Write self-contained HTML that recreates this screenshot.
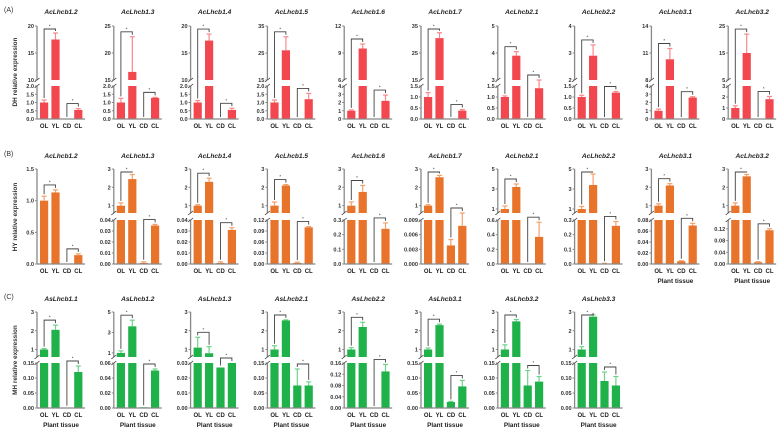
<!DOCTYPE html>
<html><head><meta charset="utf-8">
<style>
html,body{margin:0;padding:0;background:#fff;}
svg{display:block;font-family:"Liberation Sans",sans-serif;}
</style></head>
<body>
<svg id="fig" width="784" height="430" viewBox="0 0 784 430" xmlns="http://www.w3.org/2000/svg"></svg>
<script>
// ---------- Row A (DH) ----------
const rowA_genes = ["AcLhcb1.2","AcLhcb1.3","AcLhcb1.4","AcLhcb1.5","AcLhcb1.6","AcLhcb1.7","AcLhcb2.1","AcLhcb2.2","AcLhcb3.1","AcLhcb3.2"];
const rowA_values = [[1,17.5,0,0.55],[1,16.5,0,1.28],[1,17.3,0,0.55],[1,26,0,1.2],[1,9.5,0,2.2],[1,30.5,0,0.38],[1,3.9,0,1.4],[1,2.9,0,1.2],[1,10.3,0,2.6],[1,15,0,1.8]];
const rowA_errors = [[0.15,1.2,0,0.08],[0.25,6.5,0,0.03],[0.12,1.2,0,0.1],[0.15,5,0,0.35],[0.1,0.5,0,0.7],[0.2,2,0,0.05],[0.05,0.15,0,0.12],[0.08,0.4,0,0.05],[0.2,1.2,0,0.1],[0.2,7,0,0.25]];
const rowA_lowerTicks = [["0.0","0.5","1.0","1.5","2.0"],["0.0","0.5","1.0","1.5","2.0"],["0.0","0.5","1.0","1.5","2.0"],["0.0","0.5","1.0","1.5","2.0"],["0","1","2","3","4"],["0.0","0.5","1.0","1.5"],["0.0","0.5","1.0","1.5"],["0.0","0.5","1.0","1.5"],["0","1","2","3","4"],["0","1","2","3"]];
const rowA_lowerMax = [2,2,2,2,4,1.5,1.5,1.5,4,3];
const rowA_upperTicks = [["10","15","20"],["15","20","25"],["10","15","20"],["15","25","35"],["6","9","12"],["15","25","35"],["3","4","5"],["2","3","4"],["8","11","14"],["5","15","25"]];
const rowA_upperLow = [10,15,10,15,6,15,3,2,8,5];

// ---------- Row B (HY) ----------
const rowB_genes = ["AcLhcb1.2","AcLhcb1.3","AcLhcb1.4","AcLhcb1.5","AcLhcb1.6","AcLhcb1.7","AcLhcb2.1","AcLhcb2.2","AcLhcb3.1","AcLhcb3.2"];
const rowB_values = [[1,1.13,0,0.14],[1,2.45,0.001,0.035],[1,2.3,0.001,0.031],[1,2.1,0.003,0.1],[1,1.75,0,0.24],[1,2.55,0.0038,0.0078],[1,3.2,0,0.37],[1,3.4,0.003,0.26],[1,2.1,0.005,0.07],[1,2.6,0.006,0.115]];
const rowB_errors = [[0.07,0.04,0,0.02],[0.15,0.25,0.001,0.001],[0.05,0.2,0.001,0.002],[0.2,0.05,0.002,0.002],[0.2,0.35,0,0.04],[0.05,0.1,0.0012,0.0013],[0.3,0.3,0,0.2],[0.25,1.1,0.002,0.03],[0.1,0.1,0.001,0.004],[0.15,0.1,0.002,0.005]];
const rowB_lowerTicks = [["0.0","0.5","1.0","1.5"],["0.00","0.01","0.02","0.03","0.04"],["0.00","0.01","0.02","0.03","0.04"],["0.00","0.03","0.06","0.09","0.12"],["0.0","0.1","0.2","0.3"],["0.000","0.003","0.006","0.009"],["0.0","0.2","0.4","0.6"],["0.0","0.1","0.2","0.3"],["0.00","0.02","0.04","0.06","0.08"],["0.00","0.04","0.08","0.12"]];
const rowB_lowerMax = [1.5,0.04,0.04,0.12,0.3,0.009,0.6,0.3,0.08,0.15];
const rowB_upperTicks = [null,["1","2","3"],["1","2","3"],["1","2","3"],["1","2","3"],["1","2","3"],["1","3","5"],["1","3","5"],["1","2","3"],["1","2","3"]];

// ---------- Row C (MH) ----------
const rowC_genes = ["AsLhcb1.1","AsLhcb1.2","AsLhcb1.3","AsLhcb2.1","AsLhcb2.2","AsLhcb3.1","AsLhcb3.2","AsLhcb3.3"];
const rowC_values = [[1,2.05,0.001,0.12],[1,3.6,0.001,0.05],[1.1,0.8,0.027,0.03],[1,2.55,0.075,0.075],[1,2.2,0,0.13],[1,2.3,0.02,0.072],[1,2.5,0.075,0.088],[1,2.75,0.09,0.075]];
const rowC_errors = [[0.05,0.25,0,0.02],[0.2,0.6,0,0.002],[0.55,0.35,0,0],[0.2,0.03,0.055,0.012],[0.1,0.25,0,0.025],[0.08,0.05,0.002,0.02],[0.25,0.1,0.05,0.017],[0.15,0.1,0.03,0.03]];
const rowC_lowerTicks = [["0.00","0.05","0.10","0.15"],["0.00","0.02","0.04","0.06"],["0.00","0.01","0.02","0.03"],["0.00","0.05","0.10","0.15"],["0.00","0.04","0.08","0.12","0.16"],["0.00","0.05","0.10","0.15"],["0.00","0.05","0.10","0.15"],["0.00","0.05","0.10","0.15"]];
const rowC_lowerMax = [0.15,0.06,0.03,0.15,0.16,0.15,0.15,0.15];
const rowC_upperTicks = [["1","2","3"],["1","3","5"],["1","2","3"],["1","2","3"],["1","2","3"],["1","2","3"],["1","2","3"],["1","2","3"]];

const categories = ["OL","YL","CD","CL"];

const NS = "http://www.w3.org/2000/svg";
const svg = document.getElementById("fig");
function mk(tag, attrs, parent){
  const e = document.createElementNS(NS, tag);
  for (const k in attrs) e.setAttribute(k, attrs[k]);
  (parent||svg).appendChild(e);
  return e;
}
function txt(s, attrs, parent){ const t = mk("text", attrs, parent); t.textContent = s; return t; }

const AX_GRAY = "#888";
function drawPanel(p){
  const g = mk("g", {});
  
  
  const ax = p.x;
  const L = p.layout;
  const lowerMax = p.lowerMax;
  const hasUpper = !!p.upperTicks;
  const lowerTop = hasUpper ? L.lowerTop : L.top;
  const uLo = hasUpper ? p.upperLow : 0;
  const uHi = hasUpper ? parseFloat(p.upperTicks[p.upperTicks.length-1]) : 0;
  function yLow(v){ return L.bottom - Math.min(v, lowerMax)/lowerMax*(L.bottom-lowerTop); }
  function yUp(v){ return L.upBottom - (v-uLo)/(uHi-uLo)*(L.upBottom-L.top); }
  function yv(v){
    if (hasUpper && v > lowerMax) return v >= uLo ? yUp(v) : L.upBottom;
    return yLow(v);
  }
  const t = txt(p.gene, {x: ax+24, y: L.title, "font-size": 6.6, "font-weight": "bold", "font-style": "italic", "text-anchor": "middle", fill: "#222"}, g);
  
  
  const barW = 8.2;
  const bx = k => ax + 3 + k*11.4;
  p.values.forEach((v,k)=>{
    const e = p.errors[k];
    const x0 = bx(k);
    if (v > 0){
      const yTopLow = yLow(v);
      const r1 = mk("rect", {x: x0, y: yTopLow, width: barW, height: L.bottom - yTopLow, fill: p.color}, g);
      
      
      if (hasUpper && v > lowerMax){
        const yt = yv(v);
        const r2 = mk("rect", {x: x0, y: yt, width: barW, height: Math.max(0, L.upBottom - yt), fill: p.color}, g);
        
        
      }
    }
    if (e > 0){
      const y1 = yv(v), y2 = yv(v+e);
      const cx = x0 + barW/2;
      mk("line", {x1: cx, x2: cx, y1: y1, y2: y2, stroke: p.errColor, "stroke-width": 1.2}, g);
      mk("line", {x1: cx-2.5, x2: cx+2.5, y1: y2, y2: y2, stroke: p.errColor, "stroke-width": 1.2}, g);
    }
  });
  function bracket(a, b){
    const ya = yv(p.values[a]+p.errors[a]), yb = yv(p.values[b]+p.errors[b]);
    let yb0 = Math.min(ya, yb) - 5;
    if (yb0 < L.top + 3) yb0 = L.top + 3;
    const xa = bx(a)+barW/2, xb = bx(b)+barW/2;
    const br = mk("path", {d: `M${xa},${ya-2} L${xa},${yb0} L${xb},${yb0} L${xb},${yb-2}`, fill: "none", stroke: "#444", "stroke-width": 0.9}, g);
    
    
    txt("*", {x: (xa+xb)/2, y: yb0-1.5, "font-size": 4.5, "text-anchor": "middle", fill: "#333"}, g);
  }
  bracket(0,1); bracket(2,3);
  const axG = mk("g", {stroke: AX_GRAY, "stroke-width": 1.3, fill: "none"}, g);
  if (hasUpper){
    mk("line", {x1: ax, x2: ax, y1: L.top, y2: L.upBottom}, axG);
    mk("line", {x1: ax, x2: ax, y1: lowerTop, y2: L.bottom}, axG);
    mk("line", {x1: ax-2.5, x2: ax+2.5, y1: L.upBottom+2, y2: L.upBottom-2, stroke: "#333", "stroke-width": 0.8}, axG);
    mk("line", {x1: ax-2.5, x2: ax+2.5, y1: lowerTop+2, y2: lowerTop-2, stroke: "#333", "stroke-width": 0.8}, axG);
  } else {
    mk("line", {x1: ax, x2: ax, y1: L.top, y2: L.bottom}, axG);
  }
  mk("line", {x1: ax, x2: ax+48, y1: L.bottom, y2: L.bottom}, axG);
  p.lowerTicks.forEach(s=>{
    const y = yLow(parseFloat(s));
    mk("line", {x1: ax-2, x2: ax, y1: y, y2: y, stroke: AX_GRAY, "stroke-width": 1}, g);
    const tl = txt(s, {x: ax-3, y: y+2, "font-size": 5.6, "font-weight": "bold", "text-anchor": "end", fill: "#333"}, g);
    
    
  });
  if (hasUpper){
    p.upperTicks.forEach(s=>{
      const y = yUp(parseFloat(s));
      mk("line", {x1: ax-2, x2: ax, y1: y, y2: y, stroke: AX_GRAY, "stroke-width": 1}, g);
      const tl = txt(s, {x: ax-3, y: y+2, "font-size": 5.6, "font-weight": "bold", "text-anchor": "end", fill: "#333"}, g);
      
      
    });
  }
  categories.forEach((c,k)=>{
    const xl = txt(c, {x: bx(k)+barW/2, y: L.bottom+9, "font-size": 6, "font-weight": "bold", "text-anchor": "middle", fill: "#222"}, g);
    
    
  });
  if (p.xTitle){
    const xt = txt("Plant tissue", {x: ax+24, y: L.bottom+19, "font-size": 6.4, "font-weight": "bold", "text-anchor": "middle", fill: "#222"}, g);
    
    
  }
}

const layoutA = {title: 14, top: 26, upBottom: 80, lowerTop: 86, bottom: 119};
const layoutB = {title: 158, top: 169, upBottom: 213, lowerTop: 220, bottom: 264};
const layoutC = {title: 301, top: 312, upBottom: 357, lowerTop: 363, bottom: 408};
const PITCH = 76.8, X0 = 37;

rowA_genes.forEach((g,i)=>{
  drawPanel({gene: g, x: X0+i*PITCH, layout: layoutA, values: rowA_values[i], errors: rowA_errors[i],
    lowerTicks: rowA_lowerTicks[i], lowerMax: rowA_lowerMax[i], upperTicks: rowA_upperTicks[i], upperLow: rowA_upperLow[i],
    color: "#f2474e", errColor: "#f7888c", xTitle: false});
});
rowB_genes.forEach((g,i)=>{
  drawPanel({gene: g, x: X0+i*PITCH, layout: layoutB, values: rowB_values[i], errors: rowB_errors[i],
    lowerTicks: rowB_lowerTicks[i], lowerMax: rowB_lowerMax[i], upperTicks: rowB_upperTicks[i], upperLow: 0.6,
    color: "#e8732a", errColor: "#f2a06a", xTitle: i >= 8});
});
rowC_genes.forEach((g,i)=>{
  drawPanel({gene: g, x: X0+i*PITCH, layout: layoutC, values: rowC_values[i], errors: rowC_errors[i],
    lowerTicks: rowC_lowerTicks[i], lowerMax: rowC_lowerMax[i], upperTicks: rowC_upperTicks[i], upperLow: 0.6,
    color: "#1fb14a", errColor: "#6fd28a", xTitle: true});
});

[["(A)",8,"DH relative expression",72],["(B)",152,"HY relative expression",217],["(C)",295,"MH relative expression",360]].forEach(r=>{
  const a = txt(r[0], {x: 4, y: r[1]+4, "font-size": 7, fill: "#333"});
  
  
  const yt = txt(r[2], {x: 0, y: 0, "font-size": 6.4, "font-weight": "bold", "text-anchor": "middle", fill: "#333", transform: `translate(17,${r[3]}) rotate(-90)`});
  
  
});
</script>
</body></html>
